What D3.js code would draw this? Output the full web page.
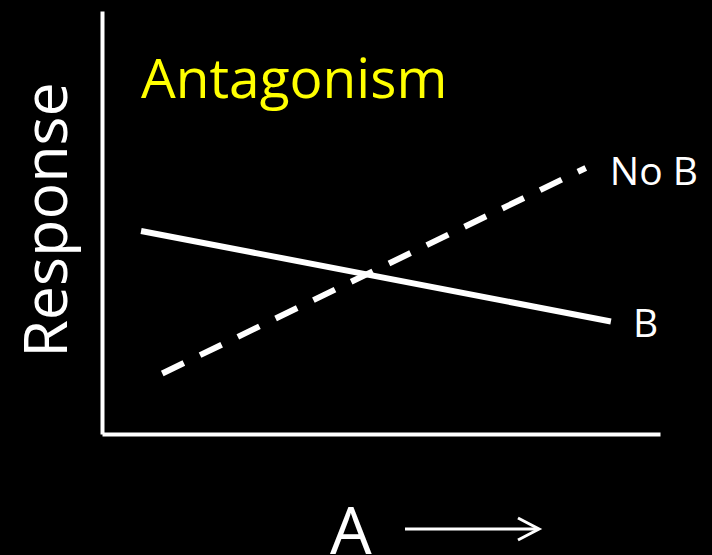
<!DOCTYPE html>
<html>
<head>
<meta charset="utf-8">
<script src="https://cdn.jsdelivr.net/npm/d3@7"></script>
<style>
  html, body { margin: 0; padding: 0; background: #000; }
  svg { display: block; }
  text { font-family: "Open Sans", "Noto Sans", sans-serif; }
</style>
</head>
<body>
<div id="chart"></div>
<script>
// schematic interaction plot: response to A with and without B
var series_names = ['B', 'No B'];
var series_b = [{x: 7, y: 48}, {x: 91.2, y: 26.6}];
var series_no_b = [{x: 10.8, y: 14.3}, {x: 86.7, y: 62.9}];
var title = 'Antagonism';
var x_label = 'A';
var y_label = 'Response';

var svg_width = 712,
	svg_height = 555,
	plot_left = 102,
	plot_right = 660,
	plot_top = 11,
	plot_bottom = 434;

var svg = d3.select('#chart')
	.append('svg')
	.attr('width', svg_width)
	.attr('height', svg_height)
	.style('background', '#000');

var x = d3.scaleLinear().domain([0, 100]).range([plot_left, plot_right]);
var y = d3.scaleLinear().domain([0, 100]).range([plot_bottom, plot_top]);

// axes without ticks, just the white domain lines
svg.append('g')
	.attr('transform', 'translate(' + plot_left + ',0)')
	.call(d3.axisLeft(y).ticks(0).tickSizeOuter(0));
svg.append('g')
	.attr('transform', 'translate(0,' + plot_bottom + ')')
	.call(d3.axisBottom(x).ticks(0).tickSizeOuter(0));
svg.selectAll('.domain')
	.attr('stroke', '#fff')
	.attr('stroke-width', 4);

var line = d3.line()
	.x(function(d) { return x(d.x); })
	.y(function(d) { return y(d.y); });

svg.append('path')
	.datum(series_b)
	.attr('d', line)
	.attr('fill', 'none')
	.attr('stroke', '#fff')
	.attr('stroke-width', 6);

svg.append('path')
	.datum(series_no_b)
	.attr('d', line)
	.attr('fill', 'none')
	.attr('stroke', '#fff')
	.attr('stroke-width', 6)
	.attr('stroke-dasharray', '24,18');

// series labels next to the line ends
svg.append('text')
	.attr('x', x(series_b[1].x) + 22)
	.attr('y', y(series_b[1].y) + 16)
	.attr('fill', '#fff')
	.style('font-size', '39px')
	.text(series_names[0]);

svg.append('text')
	.attr('x', x(series_no_b[1].x) + 24)
	.attr('y', y(series_no_b[1].y) + 17)
	.attr('fill', '#fff')
	.style('font-size', '39px')
	.text(series_names[1]);

svg.append('text')
	.attr('x', 141)
	.attr('y', 98)
	.attr('fill', '#ffff00')
	.style('font-size', '55px')
	.text(title);

svg.append('text')
	.attr('transform', 'translate(67,220) rotate(-90)')
	.attr('text-anchor', 'middle')
	.attr('fill', '#fff')
	.style('font-size', '61px')
	.text(y_label);

svg.append('text')
	.attr('x', 330)
	.attr('y', 554)
	.attr('fill', '#fff')
	.style('font-size', '66px')
	.text(x_label);

// arrow after the A label
svg.append('line')
	.attr('x1', 405)
	.attr('x2', 538)
	.attr('y1', 529)
	.attr('y2', 529)
	.attr('stroke', '#fff')
	.attr('stroke-width', 3);
svg.append('path')
	.attr('d', 'M518,518 L539,529 L518,540')
	.attr('fill', 'none')
	.attr('stroke', '#fff')
	.attr('stroke-width', 3);
</script>
</body>
</html>
